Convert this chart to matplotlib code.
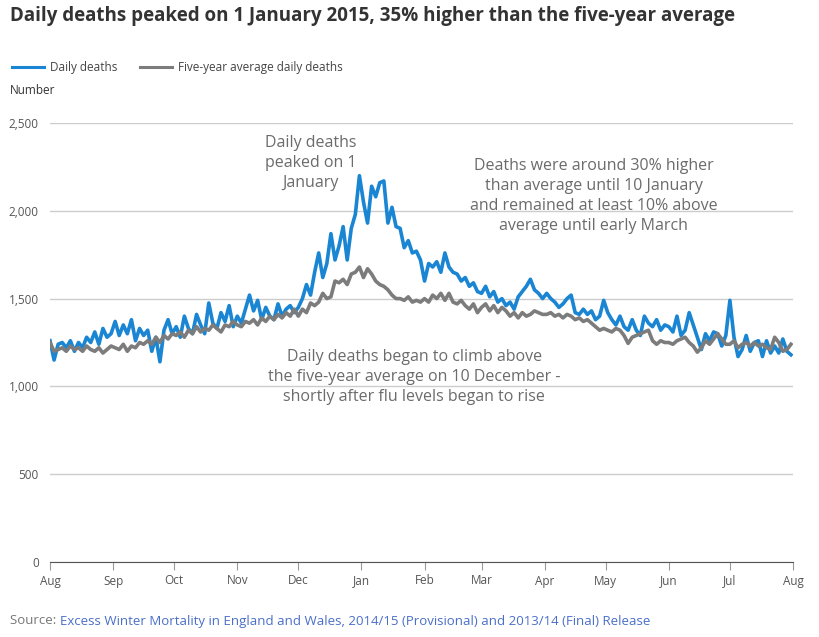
import datetime as dt
import numpy as np
import matplotlib.pyplot as plt
import matplotlib.dates as mdates
from matplotlib.lines import Line2D
from matplotlib.ticker import FuncFormatter

# data, one value every 2 days from 1 Aug 2014
start = dt.date(2014, 8, 1)
day_offsets = list(range(0, 365, 2))

daily_deaths = [
    # Aug
    1260, 1150, 1240, 1250, 1220, 1260, 1200, 1250, 1220, 1280, 1250, 1310, 1240, 1330, 1280, 1300,
    # Sep
    1370, 1290, 1350, 1300, 1380, 1260, 1330, 1290, 1320, 1200, 1280, 1140, 1320, 1380, 1300,
    # Oct
    1340, 1280, 1400, 1330, 1300, 1410, 1350, 1300, 1475, 1360, 1330, 1420, 1370, 1460, 1340,
    # Nov
    1400, 1360, 1440, 1520, 1430, 1490, 1380, 1450, 1400, 1380, 1470, 1400, 1440, 1460, 1420,
    # Dec
    1450, 1500, 1580, 1520, 1650, 1760, 1620, 1700, 1870, 1720, 1800, 1910, 1720, 1900, 1980,
    # Jan
    2200, 2050, 1930, 2140, 2080, 2160, 2170, 1930, 2020, 1910, 1900, 1790, 1830, 1760, 1770, 1720,
    # Feb
    1600, 1700, 1680, 1710, 1650, 1760, 1680, 1650, 1640, 1600, 1620, 1570, 1590, 1540,
    # Mar
    1530, 1570, 1510, 1540, 1480, 1500, 1460, 1480, 1440, 1510, 1540, 1570, 1610, 1550, 1530, 1500,
    # Apr
    1530, 1500, 1480, 1450, 1470, 1500, 1520, 1420, 1410, 1440, 1410, 1430, 1380, 1400, 1490,
    # May
    1420, 1380, 1350, 1400, 1340, 1320, 1380, 1320, 1290, 1400, 1360, 1340, 1380, 1320, 1350,
    # Jun
    1340, 1310, 1400, 1290, 1320, 1420, 1350, 1280, 1210, 1300, 1260, 1310, 1300, 1230, 1290,
    # Jul
    1490, 1280, 1170, 1210, 1290, 1200, 1250, 1260, 1170, 1260, 1190, 1230, 1190, 1270, 1200, 1180,
]

five_year_avg = [
    # Aug
    1250, 1200, 1210, 1220, 1200, 1230, 1210, 1220, 1200, 1230, 1210, 1200, 1220, 1190, 1210, 1230,
    # Sep
    1220, 1210, 1240, 1200, 1230, 1220, 1250, 1240, 1260, 1240, 1280, 1250, 1290, 1270, 1300,
    # Oct
    1290, 1310, 1280, 1320, 1300, 1340, 1310, 1330, 1320, 1350, 1330, 1310, 1350, 1340, 1370,
    # Nov
    1350, 1340, 1370, 1360, 1380, 1350, 1390, 1370, 1400, 1380, 1410, 1390, 1420, 1400, 1440,
    # Dec
    1400, 1440, 1420, 1475, 1460, 1480, 1530, 1500, 1510, 1600, 1590, 1610, 1580, 1640, 1650,
    # Jan
    1680, 1620, 1670, 1640, 1600, 1580, 1570, 1550, 1520, 1500, 1500, 1490, 1510, 1480, 1490, 1480,
    # Feb
    1500, 1480, 1520, 1500, 1530, 1490, 1530, 1480, 1470, 1490, 1460, 1440, 1470, 1420,
    # Mar
    1450, 1470, 1430, 1460, 1420, 1450, 1430, 1400, 1420, 1390, 1420, 1400, 1410, 1430, 1420, 1410,
    # Apr
    1410, 1420, 1400, 1410, 1390, 1410, 1400, 1380, 1390, 1370, 1380, 1360, 1340, 1320, 1330,
    # May
    1320, 1310, 1330, 1320, 1290, 1245, 1280, 1290, 1300, 1310, 1320, 1260, 1240, 1260, 1250,
    # Jun
    1250, 1240, 1260, 1270, 1280, 1250, 1230, 1195, 1220, 1260, 1240, 1270, 1300, 1270, 1240,
    # Jul
    1240, 1260, 1220, 1240, 1250, 1230, 1250, 1230, 1240, 1220, 1210, 1280, 1250, 1200, 1210, 1240,
]

dates = [start + dt.timedelta(days=d) for d in day_offsets]

blue = '#1a86d3'
grey = '#7c7c7c'
text_grey = '#6b6b6b'
plt.rcParams['font.family'] = ['Open Sans', 'DejaVu Sans']

fig = plt.figure(figsize=(8.19, 6.37), dpi=100)
ax = fig.add_axes([50 / 819, 75 / 637, 743 / 819, 439 / 637])

ax.plot(dates, five_year_avg, color=grey, lw=2.6, zorder=3)
ax.plot(dates, daily_deaths, color=blue, lw=2.6, zorder=2)

ax.set_xlim(dt.date(2014, 8, 1), dt.date(2015, 8, 1))
ax.set_ylim(0, 2500)
ax.xaxis.set_major_locator(mdates.MonthLocator())
ax.xaxis.set_major_formatter(mdates.DateFormatter('%b'))
ax.set_yticks(np.arange(0, 2501, 500))
ax.yaxis.set_major_formatter(FuncFormatter(lambda v, p: '{:,.0f}'.format(v)))
ax.grid(axis='y', color='#cccccc', lw=1)
ax.set_axisbelow(True)
for s in ['left', 'right', 'top']:
    ax.spines[s].set_visible(False)
ax.spines['bottom'].set_color('#555555')
ax.tick_params(axis='y', length=0, labelsize=8.5, labelcolor='#555555', pad=8)
ax.tick_params(axis='x', length=6, color='#999999', labelsize=8.5, labelcolor='#555555', pad=3)

# annotations
ax.text(dt.date(2014, 12, 7), 2272, 'Daily deaths\npeaked on 1\nJanuary', ha='center', va='center',
        fontsize=11.5, color=text_grey, linespacing=1.35)
ax.text(dt.date(2015, 4, 25), 2084, 'Deaths were around 30% higher\nthan average until 10 January\n'
        'and remained at least 10% above\naverage until early March', ha='center', va='center',
        fontsize=11.5, color=text_grey, linespacing=1.35)
ax.text(dt.date(2015, 1, 27), 1054, 'Daily deaths began to climb above\nthe five-year average on 10 December -\n'
        'shortly after flu levels began to rise', ha='center', va='center',
        fontsize=11.5, color=text_grey, linespacing=1.35)

# title, legend, labels
fig.text(10 / 819, 1 - 16 / 637, 'Daily deaths peaked on 1 January 2015, 35% higher than the five-year average',
         fontsize=13.5, fontweight='bold', color='#333333', va='center')
fig.add_artist(Line2D([12 / 819, 44 / 819], [1 - 67 / 637] * 2, color=blue, lw=2.2))
fig.text(50 / 819, 1 - 67 / 637, 'Daily deaths', fontsize=8.5, color='#444444', va='center')
fig.add_artist(Line2D([140 / 819, 172 / 819], [1 - 67 / 637] * 2, color=grey, lw=2.2))
fig.text(178 / 819, 1 - 67 / 637, 'Five-year average daily deaths', fontsize=8.5, color='#444444', va='center')
fig.text(10 / 819, 1 - 90 / 637, 'Number', fontsize=8.5, color='#333333', va='center')

src = fig.text(10 / 819, 1 - 621 / 637, 'Source: ', fontsize=9.5, color='#777777', va='center')
fig.canvas.draw()
bb = src.get_window_extent()
fig.text(bb.x1 / fig.bbox.width, 1 - 621 / 637,
         'Excess Winter Mortality in England and Wales, 2014/15 (Provisional) and 2013/14 (Final) Release',
         fontsize=9.5, color='#4a6fc9', va='center')

fig.savefig('out.png', dpi=100)
